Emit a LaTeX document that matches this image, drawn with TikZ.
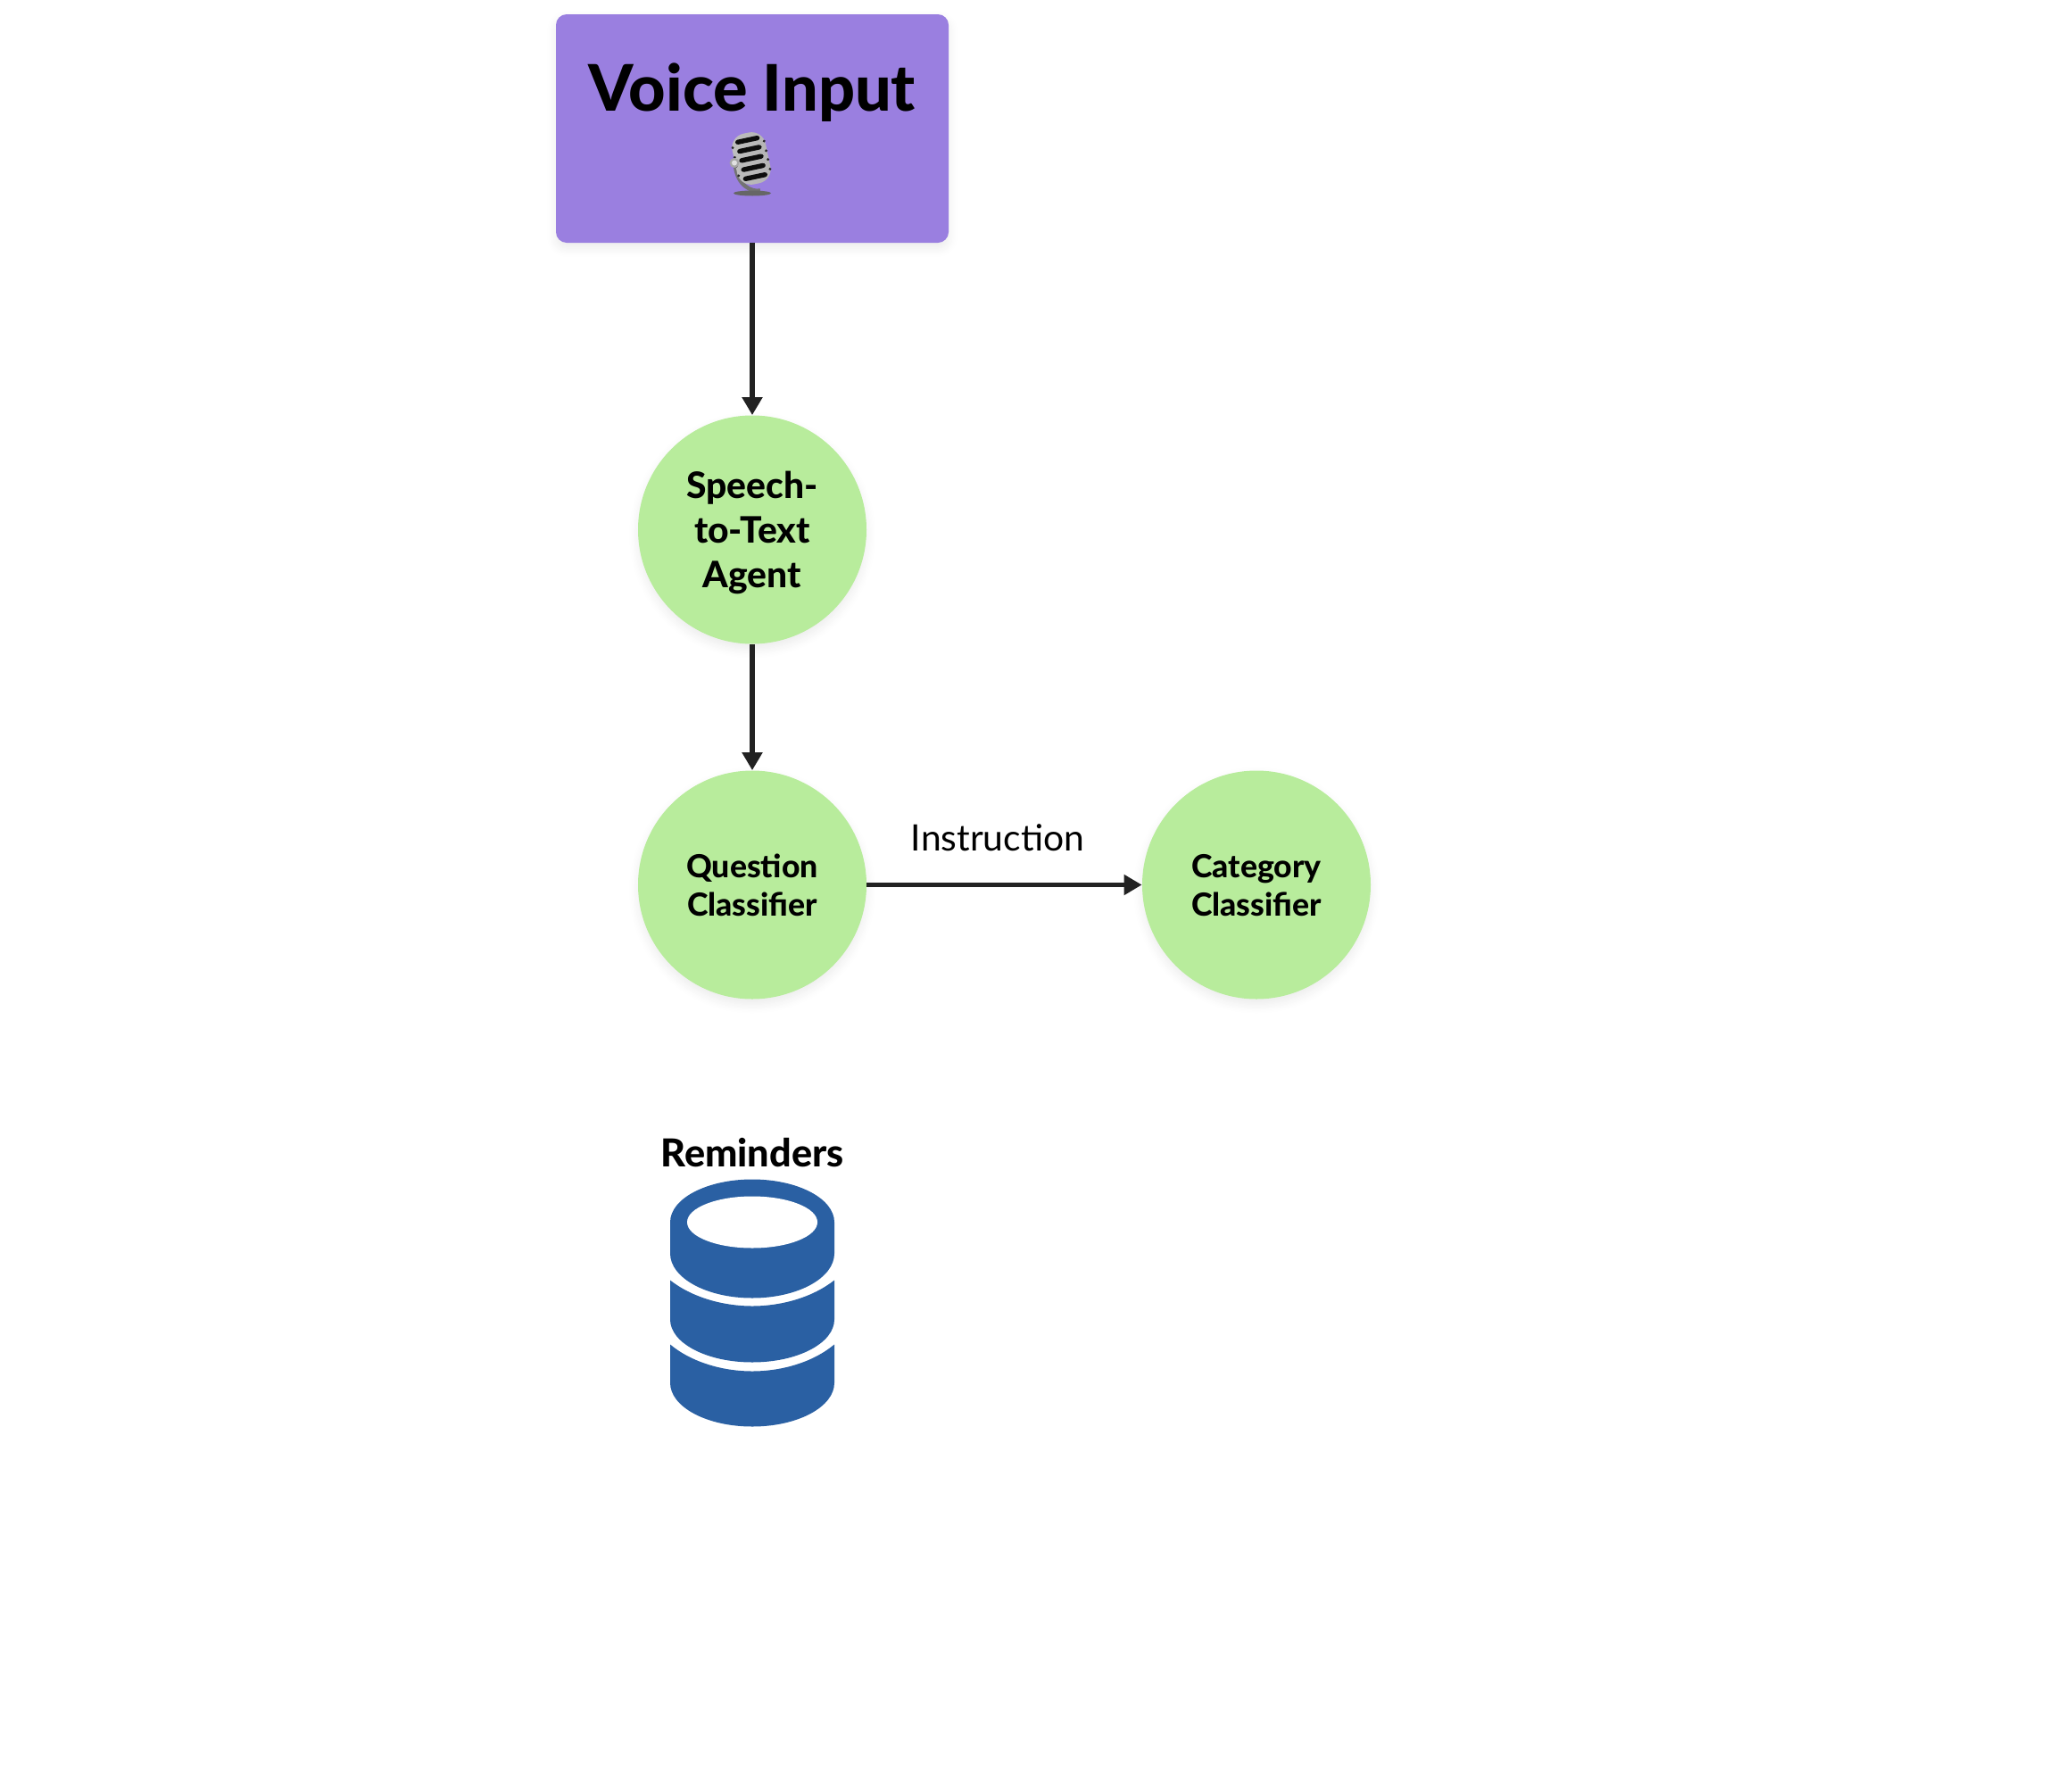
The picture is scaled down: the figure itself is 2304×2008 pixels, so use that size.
\documentclass[tikz,border=0pt]{standalone}
\usepackage{fontspec}
\setmainfont{Lato}[BoldFont={Lato Heavy}]
\usetikzlibrary{arrows.meta,shadows.blur}
\definecolor{boxpurple}{HTML}{9A7FE0}
\definecolor{nodegreen}{HTML}{B8EC9C}
\definecolor{dbblue}{HTML}{2A60A3}
\definecolor{linedark}{HTML}{222222}
\tikzset{
  softshadow/.style={blur shadow={shadow blur steps=8,shadow xshift=0pt,shadow yshift=-3pt,shadow blur radius=5pt,shadow opacity=8}},
  agent/.style={circle,fill=nodegreen,minimum size=128pt,inner sep=0pt,softshadow},
  inputbox/.style={rectangle,rounded corners=6pt,fill=boxpurple,minimum width=220pt,minimum height=128pt,inner sep=0pt,softshadow},
  flow/.style={draw=linedark,line width=2.6pt,-{Triangle[length=10pt,width=11pt]}},
  txt/.style={inner sep=0pt,text=black},
  bigtxt/.style={txt,align=center,yshift=-1.5pt,font=\fontsize{20.4}{25}\selectfont\bfseries},
  smalltxt/.style={txt,align=center,yshift=-0.3pt,font=\fontsize{17.8}{21.3}\selectfont\bfseries},
}
\begin{document}
\begin{tikzpicture}[x=0.5pt,y=-0.5pt]
\useasboundingbox (0,-1.5) rectangle (2304,2006.5);
\node[inputbox] (voice) at (843,142.5) {};
\node[txt,font=\fontsize{36}{40}\selectfont\bfseries,anchor=base] (voicetxt) at (843,123) {Voice Input};
\node[agent] (stt) at (843,592) {};
\node[agent] (qc) at (843,990) {};
\node[agent] (cc) at (1408,990) {};
\node[bigtxt] (stttxt) at (stt) {Speech-\\to-Text\\Agent};
\node[smalltxt] (qctxt) at (qc) {Question\\Classifier};
\node[smalltxt] (cctxt) at (cc) {Category\\Classifier};
\draw[flow] (voice) -- (stt);
\draw[flow] (stt) -- (qc);
\draw[flow] (qc) -- (cc);
\node[txt,font=\fontsize{20.4}{24}\selectfont,anchor=base] (lbl) at (1118,952) {Instruction};
\node[txt,font=\fontsize{21.6}{24}\selectfont\bfseries,anchor=base] (rem) at (843,1306) {Reminders};
% database icon
\fill[dbblue] (751,1368) arc[x radius=92,y radius=48,start angle=180,end angle=360] -- (935,1403) arc[x radius=92,y radius=50,start angle=0,end angle=180] -- cycle;
\fill[white] (843,1368) ellipse[x radius=73,y radius=29];
\fill[dbblue] (751,1433) .. controls (775,1452) and (810,1462) .. (843,1462) .. controls (876,1462) and (911,1452) .. (935,1433) -- (935,1477) arc[x radius=92,y radius=48,start angle=0,end angle=180] -- cycle;
\fill[dbblue] (751,1505) .. controls (775,1525) and (810,1535) .. (843,1535) .. controls (876,1535) and (911,1525) .. (935,1505) -- (935,1548) arc[x radius=92,y radius=49,start angle=0,end angle=180] -- cycle;
% microphone
\draw[black!55,line width=2.2pt] (824,184) .. controls (826,206) and (842,214) .. (852,212);
\fill[black!60] (843,215) ellipse[x radius=21,y radius=3];
\begin{scope}[shift={(842,176)},rotate=12]
\shade[left color=black!25,middle color=white,right color=black!30,rounded corners=8pt] (-19,-29) rectangle (19,29);
\foreach \yy in {-21,-10.5,0,10.5,21} \fill[black!95,rounded corners=1.5pt] (-14,\yy-2.7) rectangle (14,\yy+2.7);
\foreach \yy in {-16,-5,5,16} {\fill[black!85] (-18,\yy) circle[radius=1.6]; \fill[black!85] (18,\yy) circle[radius=1.6];}
\end{scope}
\fill[black!35] (823,181) circle[radius=5.5];
\fill[black!12] (823,181) circle[radius=3];
\end{tikzpicture}
\end{document}
